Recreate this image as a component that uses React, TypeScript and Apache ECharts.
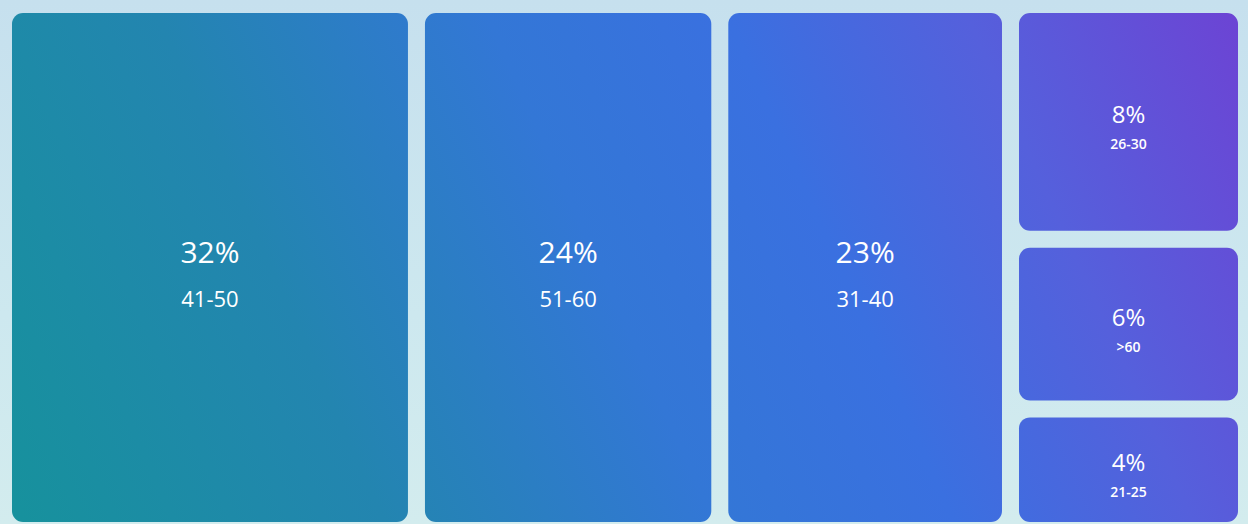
import React, { useEffect, useRef } from "react";
import * as echarts from "echarts";

const bigGroups = ["41-50", "51-60", "31-40"];
const bigShares = [32, 24, 23];
const smallGroups = ["26-30", ">60", "21-25"];
const smallShares = [8, 6, 4];

const W = 1248;
const H = 524;

export default function App() {
  const ref = useRef<HTMLDivElement>(null);
  useEffect(() => {
    if (!ref.current) return;
    const chart = echarts.init(ref.current, null, { renderer: "svg" });

    const smallTotal = smallShares.reduce((a, b) => a + b, 0);
    const total = bigShares.reduce((a, b) => a + b, 0) + smallTotal;

    // build layout rows: [x0, x1, y0, y1, value, name, tier]
    const rows: any[] = [];
    let cx = 0;
    bigGroups.forEach((n, i) => {
      rows.push([cx, cx + bigShares[i], 0, smallTotal, bigShares[i], n, 0]);
      cx += bigShares[i];
    });
    let cy = 0;
    smallGroups.forEach((n, i) => {
      rows.push([cx, cx + smallTotal, cy, cy + smallShares[i], smallShares[i], n, 1]);
      cy += smallShares[i];
    });

    const grad = new echarts.graphic.LinearGradient(
      0,
      600,
      1248,
      40,
      [
        { offset: 0, color: "#15939a" },
        { offset: 0.28, color: "#2385b0" },
        { offset: 0.5, color: "#3377d6" },
        { offset: 0.66, color: "#3a70e0" },
        { offset: 0.82, color: "#5560dc" },
        { offset: 1, color: "#6c44d4" },
      ],
      true
    );
    const font = "'Open Sans', 'Noto Sans', sans-serif";
    const G = 17;

    chart.setOption({
      animation: false,
      grid: { left: 12, right: 10, top: 13, bottom: 2 },
      xAxis: { type: "value", min: 0, max: total, show: false },
      yAxis: { type: "value", min: 0, max: smallTotal, inverse: true, show: false },
      series: [
        {
          type: "custom",
          data: rows,
          encode: { x: [0, 1], y: [2, 3] },
          renderItem: (params: any, api: any) => {
            const x0 = api.value(0);
            const x1 = api.value(1);
            const y0 = api.value(2);
            const y1 = api.value(3);
            const v = api.value(4);
            const name = rows[params.dataIndex][5];
            const tier = api.value(6);
            const p0 = api.coord([x0, y0]);
            const p1 = api.coord([x1, y1]);
            const left = p0[0] + (x0 > 0 ? G / 2 : 0);
            const right = p1[0] - (x1 < total ? G / 2 : 0);
            const top = p0[1] + (y0 > 0 ? G / 2 : 0);
            const bottom = p1[1] - (y1 < smallTotal ? G / 2 : 0);
            const mx = (left + right) / 2;
            const my = (top + bottom) / 2;
            const big = tier === 0;
            return {
              type: "group",
              children: [
                {
                  type: "rect",
                  shape: { x: left, y: top, width: right - left, height: bottom - top, r: 11 },
                  style: { fill: grad },
                },
                {
                  type: "text",
                  x: mx,
                  y: my + (big ? -16 : -8),
                  style: {
                    text: v + "%",
                    fill: "#ffffff",
                    font: `500 ${big ? 30 : 24}px ${font}`,
                    align: "center",
                    verticalAlign: "middle",
                  },
                },
                {
                  type: "text",
                  x: mx,
                  y: my + (big ? 30 : 22),
                  style: {
                    text: name,
                    fill: "#ffffff",
                    font: `${big ? 500 : 600} ${big ? 22 : 14}px ${font}`,
                    align: "center",
                    verticalAlign: "middle",
                  },
                },
              ],
            };
          },
        },
      ],
    });
    return () => chart.dispose();
  }, []);
  return (
    <div
      style={{
        position: "absolute",
        left: 0,
        top: 0,
        width: W,
        height: H,
        background: "linear-gradient(180deg, #c6e0ee 0%, #cde8ef 60%, #d3ecee 100%)",
      }}
    >
      <div ref={ref} style={{ width: W, height: H }} />
    </div>
  );
}
